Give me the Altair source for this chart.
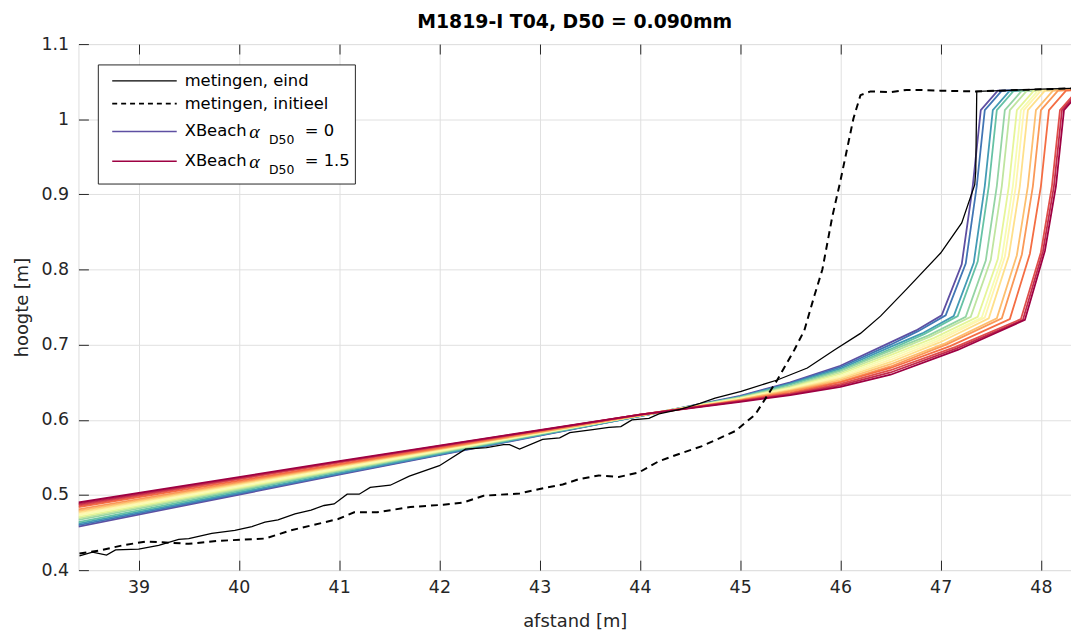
import altair as alt
import pandas as pd

FONT = "DejaVu Sans"
TXT = "#262626"

TITLE = "M1819-I T04, D50 = 0.090mm"
X_LABEL = "afstand [m]"
Y_LABEL = "hoogte [m]"
X_DOMAIN = [38.4, 48.3]
Y_DOMAIN = [0.4, 1.1]
X_TICKS = [39, 40, 41, 42, 43, 44, 45, 46, 47, 48]
Y_TICKS = [0.4, 0.5, 0.6, 0.7, 0.8, 0.9, 1.0, 1.1]

# measured profile, end of test (solid black)
EIND_X = [38.41, 38.54, 38.68, 38.77, 39.0, 39.2, 39.4, 39.5, 39.73, 39.96, 40.13, 40.26,
          40.39, 40.56, 40.72, 40.85, 40.95, 41.08, 41.2, 41.31, 41.51, 41.7, 42.0, 42.26,
          42.47, 42.64, 42.7, 42.8, 43.03, 43.2, 43.3, 43.53, 43.69, 43.81, 43.92, 44.09,
          44.19, 44.4, 44.6, 44.75, 45.01, 45.37, 45.67, 45.94, 46.2, 46.4, 46.66, 47.0,
          47.21, 47.34, 47.35, 47.36, 47.6, 47.8, 48.0, 48.3]
EIND_Y = [0.419, 0.424, 0.420, 0.427, 0.428, 0.433, 0.441, 0.442, 0.449, 0.453, 0.458, 0.464,
          0.467, 0.475, 0.480, 0.486, 0.488, 0.501, 0.501, 0.510, 0.513, 0.525, 0.539, 0.561,
          0.563, 0.567, 0.567, 0.561, 0.574, 0.576, 0.583, 0.587, 0.590, 0.591, 0.600, 0.602,
          0.608, 0.614, 0.622, 0.629, 0.638, 0.653, 0.669, 0.693, 0.715, 0.738, 0.774, 0.822,
          0.862, 0.913, 0.931, 1.037, 1.038, 1.039, 1.040, 1.041]

# measured profile, initial (dashed black)
INIT_X = [38.41, 38.61, 38.84, 39.07, 39.24, 39.5, 39.8, 40.26, 40.52, 40.99, 41.15, 41.38,
          41.71, 42.04, 42.24, 42.44, 42.8, 43.0, 43.23, 43.39, 43.59, 43.79, 43.99, 44.19,
          44.42, 44.62, 44.95, 45.15, 45.37, 45.54, 45.64, 45.74, 45.82, 45.92, 46.0, 46.13,
          46.2, 46.3, 46.5, 46.66, 46.79, 47.0, 47.35, 47.8, 48.3]
INIT_Y = [0.422, 0.426, 0.433, 0.438, 0.437, 0.435, 0.439, 0.442, 0.453, 0.468, 0.477, 0.477,
          0.484, 0.487, 0.490, 0.499, 0.502, 0.508, 0.514, 0.521, 0.526, 0.524, 0.530, 0.545,
          0.556, 0.565, 0.585, 0.607, 0.653, 0.693, 0.719, 0.765, 0.800, 0.871, 0.918, 1.001,
          1.032, 1.037, 1.036, 1.039, 1.039, 1.038, 1.037, 1.039, 1.041]

# XBeach runs, alpha_D50 = 0 ... 1.5
XB_ALPHA = [0.0, 0.1, 0.2, 0.3, 0.4, 0.5, 0.6, 0.7, 0.8, 0.9, 1.0, 1.1, 1.2, 1.3, 1.4, 1.5]
XB_GENTLE_X = [38.4, 41.0, 44.0, 45.0, 45.5, 46.0, 46.5]
XB_GENTLE_Y = [
    [0.458, 0.527, 0.605, 0.632, 0.650, 0.672, 0.703],
    [0.460, 0.528, 0.605, 0.631, 0.649, 0.670, 0.700],
    [0.462, 0.529, 0.605, 0.631, 0.648, 0.668, 0.697],
    [0.464, 0.531, 0.605, 0.630, 0.647, 0.666, 0.694],
    [0.467, 0.532, 0.606, 0.630, 0.645, 0.665, 0.692],
    [0.469, 0.533, 0.606, 0.629, 0.644, 0.663, 0.689],
    [0.471, 0.534, 0.606, 0.629, 0.643, 0.661, 0.686],
    [0.473, 0.535, 0.606, 0.628, 0.642, 0.659, 0.683],
    [0.475, 0.537, 0.606, 0.628, 0.641, 0.657, 0.680],
    [0.477, 0.538, 0.606, 0.627, 0.640, 0.655, 0.677],
    [0.479, 0.539, 0.606, 0.627, 0.639, 0.653, 0.674],
    [0.481, 0.540, 0.606, 0.626, 0.638, 0.651, 0.671],
    [0.484, 0.541, 0.607, 0.626, 0.636, 0.650, 0.669],
    [0.486, 0.543, 0.607, 0.625, 0.635, 0.648, 0.666],
    [0.488, 0.544, 0.607, 0.625, 0.634, 0.646, 0.663],
    [0.490, 0.545, 0.607, 0.624, 0.633, 0.644, 0.660],
]
XB_STEEP_X = [
    [46.755, 47.01, 47.21, 47.32, 47.40, 47.57, 48.5],
    [46.775, 47.05, 47.25, 47.36, 47.44, 47.61, 48.5],
    [46.815, 47.13, 47.33, 47.44, 47.52, 47.69, 48.5],
    [46.835, 47.17, 47.37, 47.48, 47.56, 47.73, 48.5],
    [46.875, 47.25, 47.45, 47.56, 47.64, 47.81, 48.5],
    [46.900, 47.30, 47.50, 47.61, 47.69, 47.86, 48.5],
    [46.935, 47.37, 47.57, 47.68, 47.76, 47.93, 48.5],
    [46.955, 47.41, 47.61, 47.72, 47.80, 47.97, 48.5],
    [46.970, 47.44, 47.64, 47.75, 47.83, 48.00, 48.5],
    [46.990, 47.48, 47.68, 47.79, 47.87, 48.04, 48.5],
    [47.030, 47.56, 47.76, 47.87, 47.95, 48.12, 48.5],
    [47.055, 47.61, 47.81, 47.92, 48.00, 48.17, 48.5],
    [47.095, 47.69, 47.89, 48.00, 48.08, 48.25, 48.5],
    [47.150, 47.80, 48.00, 48.11, 48.19, 48.36, 48.5],
    [47.160, 47.82, 48.02, 48.13, 48.21, 48.38, 48.5],
    [47.170, 47.84, 48.04, 48.15, 48.23, 48.40, 48.5],
]
XB_STEEP_Y = [
    [0.719, 0.739, 0.807, 0.911, 1.012, 1.038, 1.040],
    [0.718, 0.739, 0.808, 0.911, 1.012, 1.038, 1.040],
    [0.715, 0.738, 0.809, 0.911, 1.012, 1.038, 1.040],
    [0.714, 0.738, 0.811, 0.911, 1.012, 1.038, 1.040],
    [0.712, 0.737, 0.812, 0.911, 1.012, 1.038, 1.040],
    [0.711, 0.737, 0.813, 0.911, 1.012, 1.038, 1.040],
    [0.709, 0.737, 0.814, 0.911, 1.012, 1.038, 1.040],
    [0.707, 0.736, 0.815, 0.911, 1.012, 1.038, 1.040],
    [0.705, 0.736, 0.817, 0.911, 1.012, 1.038, 1.040],
    [0.703, 0.735, 0.818, 0.911, 1.012, 1.038, 1.040],
    [0.701, 0.735, 0.819, 0.911, 1.012, 1.038, 1.040],
    [0.700, 0.735, 0.820, 0.911, 1.012, 1.038, 1.040],
    [0.698, 0.734, 0.821, 0.911, 1.012, 1.038, 1.040],
    [0.697, 0.734, 0.823, 0.911, 1.012, 1.038, 1.040],
    [0.695, 0.733, 0.824, 0.911, 1.012, 1.038, 1.040],
    [0.693, 0.733, 0.825, 0.911, 1.012, 1.038, 1.040],
]

LEGEND_LABELS = ["metingen, eind", "metingen, initieel", "XBeach ", "XBeach "]

# ---- colours (Spectral, reversed) ----
SPECTRAL = ["#5e4fa2", "#3288bd", "#66c2a5", "#abdda4", "#e6f598", "#ffffbf",
            "#fee08b", "#fdae61", "#f46d43", "#d53e4f", "#9e0142"]


def _interp_colors(stops, n):
    rgb = [tuple(int(s[k:k + 2], 16) for k in (1, 3, 5)) for s in stops]
    out = []
    for i in range(n):
        t = i / (n - 1) * (len(rgb) - 1)
        j = min(int(t), len(rgb) - 2)
        f = t - j
        c = [round(rgb[j][k] + (rgb[j + 1][k] - rgb[j][k]) * f) for k in range(3)]
        out.append("#%02x%02x%02x" % tuple(c))
    return out


COLORS = _interp_colors(SPECTRAL, len(XB_ALPHA))

# ---- tables ----
rows = []
for i, a in enumerate(XB_ALPHA):
    xs = XB_GENTLE_X + XB_STEEP_X[i]
    ys = XB_GENTLE_Y[i] + XB_STEEP_Y[i]
    for k, (xv, yv) in enumerate(zip(xs, ys)):
        rows.append({"series": i, "k": k, "x": xv, "y": yv})
xb_df = pd.DataFrame(rows)
eind_df = pd.DataFrame({"x": EIND_X, "y": EIND_Y, "k": range(len(EIND_X))})
init_df = pd.DataFrame({"x": INIT_X, "y": INIT_Y, "k": range(len(INIT_X))})
ONE = pd.DataFrame({"a": [0]})

xscale = alt.Scale(domain=X_DOMAIN, nice=False, zero=False)
yscale = alt.Scale(domain=Y_DOMAIN, nice=False, zero=False)

y_axis = alt.Axis(values=Y_TICKS, format="~g", offset=-10, tickSize=10, labelPadding=10,
                  domain=False, grid=True, gridColor="#e0e0e0", tickColor=TXT,
                  labelColor=TXT, labelFont=FONT, labelFontSize=17.5,
                  title=Y_LABEL, titleFont=FONT, titleFontSize=18, titleColor=TXT,
                  titleFontWeight="normal", titlePadding=10)

xb = alt.Chart(xb_df).mark_line(clip=True, strokeWidth=1.8).encode(
    x=alt.X("x:Q", scale=xscale,
            axis=alt.Axis(orient="bottom", values=X_TICKS, offset=-10, tickSize=10,
                          labelPadding=9, domain=False, grid=True, gridColor="#e0e0e0",
                          tickColor=TXT, labelColor=TXT, labelFont=FONT, labelFontSize=17.5,
                          title=X_LABEL, titleFont=FONT, titleFontSize=18, titleColor=TXT,
                          titleFontWeight="normal", titlePadding=16)),
    y=alt.Y("y:Q", scale=yscale, axis=y_axis),
    color=alt.Color("series:O", scale=alt.Scale(domain=list(range(len(XB_ALPHA))), range=COLORS),
                    legend=None),
    order=alt.Order("k:Q"),
)

init = alt.Chart(init_df).mark_line(clip=True, color="#000000", strokeWidth=2,
                                    strokeDash=[7, 5]).encode(
    x=alt.X("x:Q", scale=xscale,
            axis=alt.Axis(orient="top", values=X_TICKS, offset=-10, tickSize=10, labels=False,
                          domain=False, grid=False, tickColor=TXT, title=None)),
    y=alt.Y("y:Q", scale=yscale, axis=y_axis),
    order=alt.Order("k:Q"),
)

eind = alt.Chart(eind_df).mark_line(clip=True, color="#000000", strokeWidth=1.3).encode(
    x=alt.X("x:Q", scale=xscale, axis=None),
    y=alt.Y("y:Q", scale=yscale, axis=y_axis),
    order=alt.Order("k:Q"),
)

# ---- legend (drawn by hand, to allow the subscript) ----
leg_box = alt.Chart(ONE).mark_rect(fill="white", stroke=TXT, strokeWidth=1).encode(
    x=alt.value(20), x2=alt.value(279), y=alt.value(21), y2=alt.value(141))


def leg_line(py, color, dash=None, width=1.6):
    kw = dict(color=color, strokeWidth=width)
    if dash:
        kw["strokeDash"] = dash
    return alt.Chart(ONE).mark_rule(**kw).encode(
        x=alt.value(34), x2=alt.value(99), y=alt.value(py))


def leg_text(txt, px, py, size=16.5, font=FONT, style="normal"):
    return alt.Chart(ONE).mark_text(text=txt, align="left", baseline="middle", fontSize=size,
                                    font=font, fontStyle=style, color="#000000").encode(
        x=alt.value(px), y=alt.value(py))


legend = [
    leg_box,
    leg_line(37, "#000000", width=1.3),
    leg_line(60, "#000000", dash=[5, 4], width=1.6),
    leg_line(88, COLORS[0]),
    leg_line(118, COLORS[-1]),
    leg_text(LEGEND_LABELS[0], 107, 37),
    leg_text(LEGEND_LABELS[1], 107, 60),
    leg_text(LEGEND_LABELS[2], 107, 88),
    leg_text("\u03b1", 172, 89, size=20, font="Liberation Serif", style="italic"),
    leg_text("D50", 192, 97, size=12.5),
    leg_text("= 0", 228, 88),
    leg_text(LEGEND_LABELS[3], 107, 118),
    leg_text("\u03b1", 172, 119, size=20, font="Liberation Serif", style="italic"),
    leg_text("D50", 192, 127, size=12.5),
    leg_text("= 1.5", 228, 118),
]

chart = alt.layer(xb, init, eind, *legend).resolve_axis(x="independent").properties(
    width=1000, height=530,
    padding={"left": 71, "top": 34, "right": 0, "bottom": 63},
    autosize=alt.AutoSizeParams(type="none"),
    title=alt.TitleParams(TITLE, font=FONT, fontSize=19, fontWeight="bold", color="#000000",
                          anchor="middle", frame="group", baseline="alphabetic", offset=15,
                          dy=27),
).configure_view(stroke=TXT, strokeWidth=1).configure(background="white")

chart.save("out.html", embed_options={"renderer": "svg", "actions": False})
